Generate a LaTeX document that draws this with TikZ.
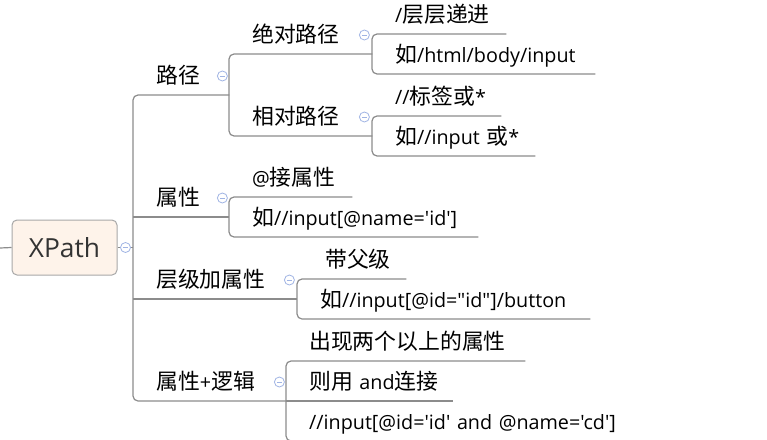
\documentclass[tikz,border=0pt]{standalone}
\usepackage{fontspec}
\setmainfont{Open Sans}[Ligatures=TeXOff, Scale=0.94]
\newfontfamily\cjk{Noto Sans CJK SC}[Scale=1.04]
\usetikzlibrary{positioning, calc}

\definecolor{linegray}{RGB}{140,140,140}
\definecolor{rootfill}{RGB}{254,243,234}
\definecolor{rootedge}{RGB}{168,168,168}
\definecolor{foldblue}{RGB}{160,180,228}

\tikzset{
  root/.style={draw=rootedge, fill=rootfill, line width=1pt, rounded corners=5pt, minimum width=105pt, minimum height=55pt, text=black!80, font=\fontsize{28}{32}\selectfont},
  topic/.style={anchor=south west, inner xsep=0pt, inner ysep=11pt, text depth=0pt, align=left, font=\fontsize{21}{25}\selectfont, execute at begin node=\hspace*{23pt}},
  link/.style={draw=linegray, line width=1.2pt, rounded corners=5pt},
  fold/.style={circle, draw=foldblue, fill=white, line width=0.8pt, minimum size=10pt, inner sep=0pt,
    path picture={\draw[foldblue, line width=1pt] ($(path picture bounding box.center)+(-2.6pt,0)$) -- ++(5.2pt,0);}},
}

\begin{document}
\begin{tikzpicture}[x=1pt, y=-1pt]
        \useasboundingbox (0,0) rectangle (767,439);
        \fill[white] (0,0) rectangle (767,439);
        \clip (0,0) rectangle (767,439);

        % root
        \node[root] (xpath) at (64.5,247.5) {XPath};
        \coordinate (in) at (0,248);

        % first level
        \node[topic, text width=96] (lujing) at (133,95) {{\cjk 路径}};
        \node[topic, text width=96] (shuxing) at (133,217) {{\cjk 属性}};
        \node[topic, text width=164] (cengji) at (133,299) {{\cjk 层级加属性}};
        \node[topic, text width=153] (luoji) at (133,401) {{\cjk 属性}+{\cjk 逻辑}};

        % second level
        \node[topic, text width=143] (juedui) at (229,54) {{\cjk 绝对路径}};
        \node[topic, text width=143] (xiangdui) at (229,136) {{\cjk 相对路径}};
        \node[topic, text width=123] (jieshu) at (229,197) {@{\cjk 接属性}};
        \node[topic, text width=249] (shuli) at (229,237) {{\cjk 如}//input[@name='id']};
        \node[topic, text width=109] (fuji) at (297,279) {\hspace*{5pt}{\cjk 带父级}};
        \node[topic, text width=293] (fuli) at (297,319) {{\cjk 如}//input[@id="id"]/button};
        \node[topic, text width=239] (liangge) at (286,361) {{\cjk 出现两个以上的属性}};
        \node[topic, text width=167] (zeyong) at (286,401) {{\cjk 则用} and{\cjk 连接}};
        \node[topic, text width=380] (andli) at (286,441) {//input[@id='id' and @name='cd']};

        % third level
        \node[topic, text width=134] (cengceng) at (372,34) {/{\cjk 层层递进}};
        \node[topic, text width=223] (jueli) at (372,74) {{\cjk 如}/html/body/input};
        \node[topic, text width=129] (biaoqian) at (372,116) {//{\cjk 标签或}*};
        \node[topic, text width=163] (xiangli) at (372,156) {{\cjk 如}//input {\cjk 或}*};

        % connectors
        \draw[link] (in) -- (xpath.west);
        \draw[link] (xpath.east) -- (xpath.east -| lujing.south west);
        \draw[link] (lujing.south east) -- (lujing.south west) -- (luoji.south west) -- (luoji.south east);
        \draw[link] (shuxing.south west) -- (shuxing.south east);
        \draw[link] (cengji.south west) -- (cengji.south east);

        \draw[link] (juedui.south east) -- (juedui.south west) -- (xiangdui.south west) -- (xiangdui.south east);
        \draw[link] (jieshu.south east) -- (jieshu.south west) -- (shuli.south west) -- (shuli.south east);
        \draw[link] (fuji.south east) -- (fuji.south west) -- (fuli.south west) -- (fuli.south east);
        \draw[link] (liangge.south east) -- (liangge.south west) -- (andli.south west) -- (andli.south east);
        \draw[link] (zeyong.south west) -- (zeyong.south east);

        \draw[link] (cengceng.south east) -- (cengceng.south west) -- (jueli.south west) -- (jueli.south east);
        \draw[link] (biaoqian.south east) -- (biaoqian.south west) -- (xiangli.south west) -- (xiangli.south east);

        % fold markers
        \node[fold] (f-xpath) at ($(xpath.east)+(8,0)$) {};
        \node[fold] (f-lujing) at ($(lujing.south east)+(-7,-19)$) {};
        \node[fold] (f-shuxing) at ($(shuxing.south east)+(-7,-19)$) {};
        \node[fold] (f-cengji) at ($(cengji.south east)+(-8,-19)$) {};
        \node[fold] (f-luoji) at ($(luoji.south east)+(-7,-19)$) {};
        \node[fold] (f-juedui) at ($(juedui.south east)+(-8,-19)$) {};
        \node[fold] (f-xiangdui) at ($(xiangdui.south east)+(-8,-19)$) {};
        \end{tikzpicture}
\end{document}
